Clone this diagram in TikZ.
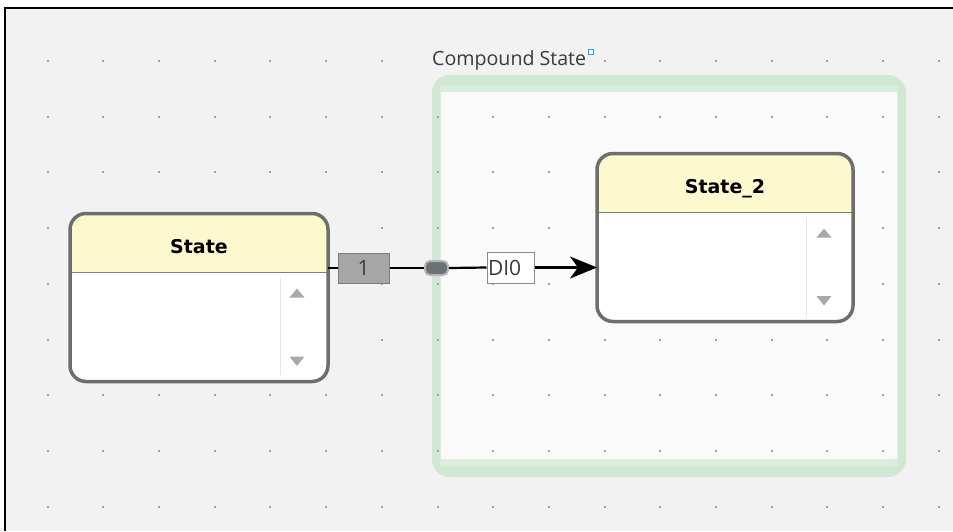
\documentclass[tikz,border=0pt]{standalone}
\usepackage{fontspec}
\setmainfont{Open Sans}
\newfontfamily\uifont{Open Sans}
\newfontfamily\titlefont{DejaVu Sans}
\usetikzlibrary{arrows.meta}
\definecolor{bg}{HTML}{F2F2F2}
\definecolor{dotc}{HTML}{A0A0A0}
\definecolor{cgreen}{HTML}{CFE7D3}
\definecolor{cgreenlt}{HTML}{DAEDDD}
\definecolor{cinner}{HTML}{FAFAFA}
\definecolor{labelc}{HTML}{3A3A3A}
\definecolor{markc}{HTML}{1E9FE8}
\definecolor{hdr}{HTML}{FDF9CF}
\definecolor{bordc}{HTML}{6E6E6E}
\definecolor{sepc}{HTML}{808080}
\definecolor{scrollc}{HTML}{E4E4E4}
\definecolor{tric}{HTML}{A6AAAF}
\definecolor{onefill}{HTML}{A6A6A6}
\definecolor{onedraw}{HTML}{7E7E7E}
\definecolor{pillfill}{HTML}{6C7178}
\definecolor{pilldraw}{HTML}{B5B5B5}
\definecolor{didraw}{HTML}{8A8A8A}
\tikzset{
  stateshape/.style={fill=white, rounded corners=16, inner sep=0, outer sep=0},
  stateborder/.style={draw=bordc, line width=3.5, rounded corners=16},
  sepline/.style={draw=sepc, line width=1},
  scrollline/.style={draw=scrollc, line width=1.5},
  tri/.style={fill=tric},
  titletext/.style={font=\titlefont\bfseries\fontsize{19}{22}\selectfont, text=black, inner sep=0},
  conn/.style={draw=black, line width=2.2},
  onebox/.style={fill=onefill, draw=onedraw, line width=1, inner sep=0, minimum width=51, minimum height=30, text=labelc, font=\uifont\fontsize{21}{23}\selectfont},
  pillbox/.style={fill=pillfill, draw=pilldraw, line width=2, rounded corners=5, inner sep=0, minimum width=23, minimum height=14},
  dibox/.style={fill=white, draw=didraw, line width=1, inner xsep=1, inner ysep=0, text width=45, align=left, minimum height=31, text=labelc, font=\uifont\fontsize{21}{23}\selectfont},
}
\begin{document}
\begin{tikzpicture}[x=1pt,y=-1pt]
\useasboundingbox (0,0) rectangle (953,531);
% background and frame
\fill[white] (0,0) rectangle (953,531);
\fill[bg] (5,8) rectangle (953,531);
\draw[black, line width=1.5] (5,531) -- (5,8) -- (953,8);
% compound state
\fill[cgreen, rounded corners=18] (432,75) rectangle (906,477);
\fill[cgreenlt] (440,86) rectangle (898,466);
\fill[cinner, rounded corners=2] (441,92) rectangle (897,459);
% grid dots
\foreach \i in {0,...,16} {
  \foreach \j in {0,...,8} {
    \fill[dotc] ({47.6+55.7*\i-1},{61+55.7*\j-1}) rectangle ++(2,2);
  }
}
% compound label
\node[anchor=base west, fill=bg, inner xsep=1, inner ysep=1, font=\uifont\fontsize{19.6}{22}\selectfont, text=labelc] (clabel) at (431,65) {Compound State};
\node[draw=markc, line width=1, fill=white, minimum size=5, inner sep=0] (cmark) at (590.5,52) {};
% State
\node[stateshape, minimum width=258, minimum height=168] (s1) at (199,297.5) {};
\begin{scope}
  \clip[rounded corners=16] (70,213.5) rectangle (328,381.5);
  \fill[hdr] (70,213.5) rectangle (328,272);
\end{scope}
\draw[sepline] (70,272) -- (328,272);
\draw[scrollline] (280.5,277) -- (280.5,375);
\fill[tri] (289.5,297.5) -- (304.5,297.5) -- (297,288.5) -- cycle;
\fill[tri] (289.5,356.5) -- (304.5,356.5) -- (297,366) -- cycle;
\draw[stateborder] (70,213.5) rectangle (328,381.5);
\node[titletext, anchor=base] (t1) at (199,253) {State};
% State_2
\node[stateshape, minimum width=256, minimum height=168] (s2) at (725,237.5) {};
\begin{scope}
  \clip[rounded corners=16] (597,153.5) rectangle (853,321.5);
  \fill[hdr] (597,153.5) rectangle (853,212);
\end{scope}
\draw[sepline] (597,212) -- (853,212);
\draw[scrollline] (806.5,217) -- (806.5,317);
\fill[tri] (816.5,237.5) -- (831.5,237.5) -- (824,228.5) -- cycle;
\fill[tri] (816.5,296) -- (831.5,296) -- (824,305.5) -- cycle;
\draw[stateborder] (597,153.5) rectangle (853,321.5);
\node[titletext, anchor=base] (t2) at (725,193) {State\_2};
% transition
\node[onebox] (one) at (363.5,268) {1};
\node[pillbox] (pill) at (436.5,268) {};
\node[dibox] (dio) at (510.5,267.5) {DI0};
\draw[conn] (s1.east |- one.west) -- (one.west);
\draw[conn] (one.east) -- (pill.west);
\draw[conn] (pill.east) -- (dio.west);
\draw[conn, -{Stealth[length=27, width=22, inset=8]}] (dio.east) -- (s2.west |- dio.east);
\end{tikzpicture}
\end{document}
